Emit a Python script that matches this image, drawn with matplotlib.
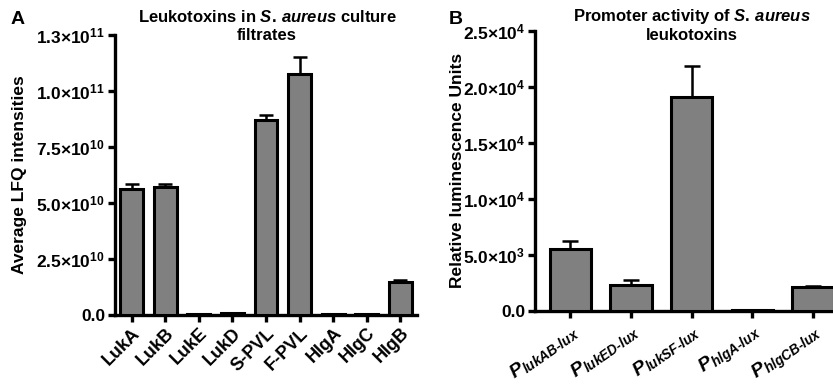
import numpy as np
import matplotlib
matplotlib.use("Agg")
import matplotlib.pyplot as plt

plt.rcParams['font.family'] = ['Liberation Sans', 'DejaVu Sans']
plt.rcParams['font.weight'] = 'bold'
plt.rcParams['mathtext.fontset'] = 'custom'
plt.rcParams['mathtext.rm'] = 'Liberation Sans:bold'
plt.rcParams['mathtext.bf'] = 'Liberation Sans:bold'
plt.rcParams['mathtext.it'] = 'Liberation Sans:italic:bold'

# panel A data
toxins = ["LukA", "LukB", "LukE", "LukD", "S-PVL", "F-PVL", "HlgA", "HlgC", "HlgB"]
lfq_mean = [5.63e10, 5.70e10, 0.04e10, 0.08e10, 8.70e10, 10.76e10, 0.03e10, 0.03e10, 1.47e10]
lfq_err = [0.20e10, 0.15e10, 0.0, 0.0, 0.23e10, 0.75e10, 0.0, 0.0, 0.09e10]
ticks_a = [0, 2.5e10, 5.0e10, 7.5e10, 1.0e11, 1.25e11]
ticklabels_a = ["0.0", r"$\mathbf{2.5{×}10^{10}}$", r"$\mathbf{5.0{×}10^{10}}$",
                r"$\mathbf{7.5{×}10^{10}}$", r"$\mathbf{1.0{×}10^{11}}$", r"$\mathbf{1.3{×}10^{11}}$"]

# panel B data
promoters = [r"$P_{lukAB\text{-}lux}$", r"$P_{lukED\text{-}lux}$", r"$P_{lukSF\text{-}lux}$",
             r"$P_{hlgA\text{-}lux}$", r"$P_{hlgCB\text{-}lux}$"]
rlu_mean = [5550, 2320, 19130, 50, 2170]
rlu_err = [730, 450, 2740, 0, 90]
ticks_b = [0, 5000, 10000, 15000, 20000, 25000]
ticklabels_b = ["0.0", r"$\mathbf{5.0{×}10^{3}}$", r"$\mathbf{1.0{×}10^{4}}$",
                r"$\mathbf{1.5{×}10^{4}}$", r"$\mathbf{2.0{×}10^{4}}$", r"$\mathbf{2.5{×}10^{4}}$"]

fig = plt.figure(figsize=(8.33, 3.9), dpi=100)
axA = fig.add_axes([115/833, 75/390, 302/833, 280/390])
axB = fig.add_axes([535/833, 79/390, 300/833, 280/390])


def style(ax):
    for s in ["top", "right"]:
        ax.spines[s].set_visible(False)
    for s in ["left", "bottom"]:
        ax.spines[s].set_linewidth(2.4)
    ax.tick_params(width=2.4, length=5, labelsize=12.5, pad=2)


# A
xa = np.arange(len(toxins))
axA.bar(xa, lfq_mean, width=0.68, color="#808080", edgecolor="black", linewidth=2.2, zorder=3)
axA.errorbar(xa, lfq_mean, yerr=[np.zeros(len(xa)), lfq_err], fmt="none", ecolor="black",
             elinewidth=1.8, capsize=5, capthick=1.8, zorder=2)
axA.set_xlim(-0.5, 8.5)
axA.set_ylim(0, 1.25e11)
axA.set_yticks(ticks_a)
axA.set_yticklabels(ticklabels_a)
axA.set_xticks(xa)
style(axA)
axA.set_xticklabels(toxins, rotation=45, ha="right", rotation_mode="anchor", fontweight="bold", fontsize=13)

# B
xb = np.arange(len(promoters))
axB.bar(xb, rlu_mean, width=0.68, color="#808080", edgecolor="black", linewidth=2.2, zorder=3)
axB.errorbar(xb, rlu_mean, yerr=[np.zeros(len(xb)), rlu_err], fmt="none", ecolor="black",
             elinewidth=1.8, capsize=6, capthick=1.8, zorder=2)
axB.set_xlim(-0.58, 4.36)
axB.set_ylim(0, 25000)
axB.set_yticks(ticks_b)
axB.set_yticklabels(ticklabels_b)
axB.set_xticks(xb)
style(axB)
axB.set_xticklabels(promoters, rotation=35, ha="right", rotation_mode="anchor", fontsize=14)

# axis titles
fig.text(20/833, 1 - 175/390, "Average LFQ intensities", rotation=90, ha="center", va="center",
         fontsize=12.5, fontweight="bold")
fig.text(458/833, 1 - 170/390, "Relative luminescence Units", rotation=90, ha="center", va="center",
         fontsize=12.5, fontweight="bold")

# titles and panel letters
fig.text(267/833, 1 - 17/390, r"Leukotoxins in $S.\,aureus$ culture", ha="center", va="center",
         fontsize=12, fontweight="bold")
fig.text(267/833, 1 - 36/390, "filtrates", ha="center", va="center", fontsize=12, fontweight="bold")
fig.text(692/833, 1 - 17/390, r"Promoter activity of $S.\,aureus$", ha="center", va="center",
         fontsize=12, fontweight="bold")
fig.text(692/833, 1 - 36/390, "leukotoxins", ha="center", va="center", fontsize=12, fontweight="bold")
fig.text(18/833, 1 - 20/390, "A", ha="center", va="center", fontsize=14, fontweight="bold")
fig.text(456/833, 1 - 20/390, "B", ha="center", va="center", fontsize=14, fontweight="bold")

fig.savefig("out.png", dpi=100)
